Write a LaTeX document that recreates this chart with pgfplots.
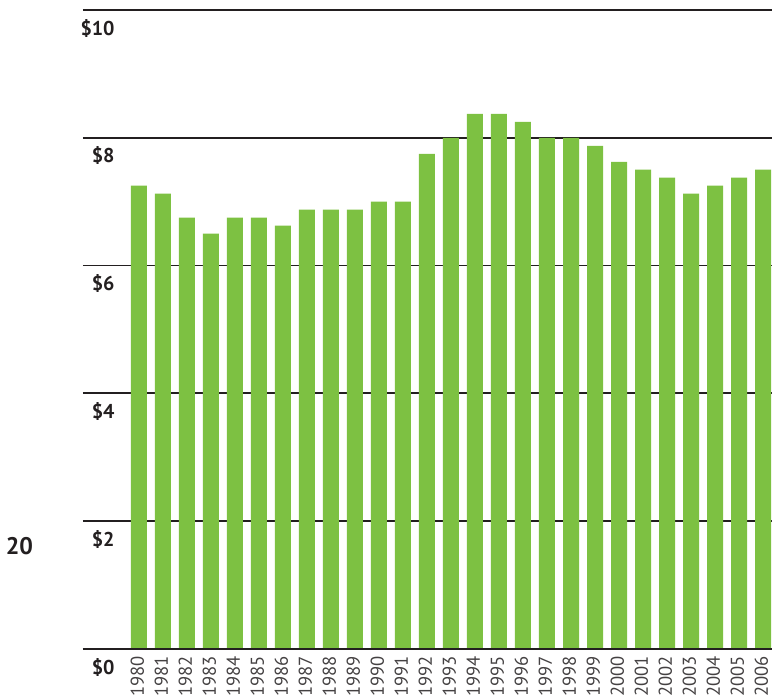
\documentclass[border=0pt]{standalone}
\usepackage{pgfplots}
\pgfplotsset{compat=1.18}
\usepackage{fontspec}
\setmainfont{PT Sans}
\definecolor{bargreen}{HTML}{7DC142}
\definecolor{gridk}{HTML}{231F20}
\begin{document}
\begin{tikzpicture}
\begin{axis}[
  scale only axis,
  width=344.5pt, height=319.5pt,
  xmin=-2.333, xmax=26.375,
  ymin=0, ymax=10,
  axis line style={draw=none},
  ytick={0,2,4,6,8,10},
  yticklabels={\$0,\$2,\$4,\$6,\$8,\$10},
  ymajorgrids,
  grid style={gridk, line width=0.9pt},
  major tick length=0pt,
  xtick=data,
  xticklabels={1980,1981,1982,1983,1984,1985,1986,1987,1988,1989,1990,1991,1992,1993,1994,1995,1996,1997,1998,1999,2000,2001,2002,2003,2004,2005,2006},
  xticklabel style={rotate=90, anchor=east, font=\fontsize{9.3}{10}\selectfont, text=gridk!85, yshift=0.8pt},
  yticklabel style={anchor=north east, xshift=19.3pt, yshift=-1pt, font=\fontsize{10}{12}\selectfont\bfseries, text=gridk},
  axis on top=false,
]
\addplot[ybar, bar width=8pt, fill=bargreen, draw=none] coordinates {
(0,7.25) (1,7.125) (2,6.75) (3,6.5) (4,6.75) (5,6.75) (6,6.625) (7,6.875) (8,6.875) (9,6.875)
(10,7) (11,7) (12,7.75) (13,8) (14,8.375) (15,8.375) (16,8.25) (17,8) (18,8) (19,7.875)
(20,7.625) (21,7.5) (22,7.375) (23,7.125) (24,7.25) (25,7.375) (26,7.5)};
\draw[gridk, line width=1.4pt] (axis cs:-2.333,0) -- (axis cs:26.375,0);
\end{axis}
\node[font=\fontsize{12}{14}\selectfont\bfseries, text=gridk] at ([xshift=-31.75pt, yshift=51.5pt]current axis.south west) {20};
\pgfresetboundingbox
\path ([xshift=-41.5pt, yshift=-25.5pt]current axis.south west) rectangle ([yshift=5pt]current axis.north east);
\end{tikzpicture}
\end{document}
